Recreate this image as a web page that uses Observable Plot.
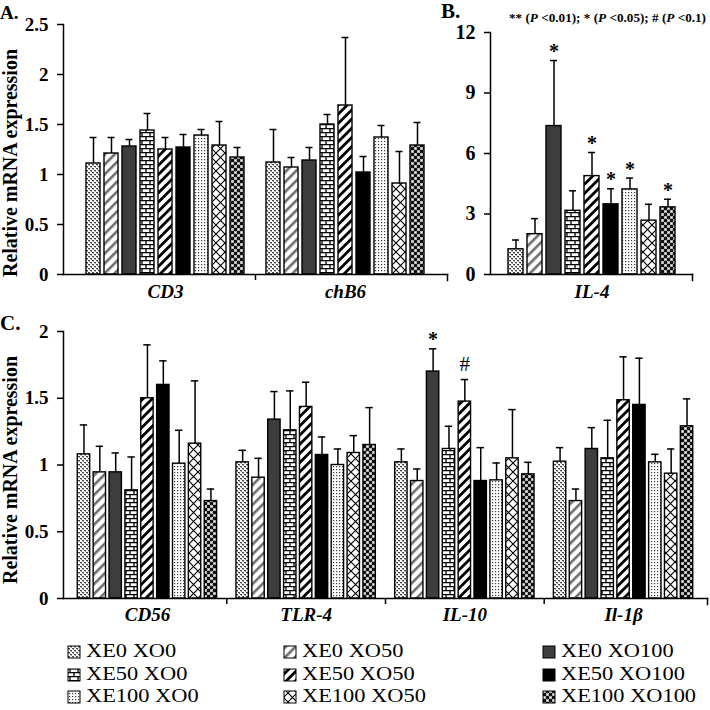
<!DOCTYPE html>
<html><head><meta charset="utf-8">
<script src="https://cdn.jsdelivr.net/npm/d3@7"></script>
<script src="https://cdn.jsdelivr.net/npm/@observablehq/plot@0.6"></script>
<style>
html,body{margin:0;padding:0;background:#fff;}
#fig{position:relative;width:710px;height:710px;overflow:hidden;font-family:'Liberation Serif','Times New Roman',serif;color:#000;}
.panel{position:absolute;}
#overlay{position:absolute;left:0;top:0;}
</style></head><body>
<svg width="0" height="0" style="position:absolute">
<defs>
<pattern id="p0" width="4" height="4" patternUnits="userSpaceOnUse">
<rect width="4" height="4" fill="#fff"/><rect x="0" y="0" width="2" height="1.2" fill="#444"/><rect x="2" y="2" width="2" height="1.2" fill="#444"/><rect x="1" y="1" width="1" height="1" fill="#999"/><rect x="3" y="3" width="1" height="1" fill="#999"/>
</pattern>
<pattern id="p1" width="7" height="7" patternUnits="userSpaceOnUse" patternTransform="rotate(45)">
<rect width="7" height="7" fill="#fff"/><rect width="2.6" height="7" fill="#6e6e6e"/>
</pattern>
<pattern id="p2" width="4" height="4" patternUnits="userSpaceOnUse"><rect width="4" height="4" fill="#3d3d3d"/></pattern>
<pattern id="p3" width="8" height="8" patternUnits="userSpaceOnUse">
<rect width="8" height="8" fill="#fff"/><path d="M0 0.6H8M0 4.6H8M2 0V4.6M6 4.6V8" stroke="#000" stroke-width="1.3" fill="none"/>
</pattern>
<pattern id="p4" width="6.5" height="6.5" patternUnits="userSpaceOnUse" patternTransform="rotate(45)">
<rect width="6.5" height="6.5" fill="#fff"/><rect width="2.8" height="6.5" fill="#000"/>
</pattern>
<pattern id="p5" width="4" height="4" patternUnits="userSpaceOnUse"><rect width="4" height="4" fill="#000"/></pattern>
<pattern id="p6" width="3" height="3" patternUnits="userSpaceOnUse">
<rect width="3" height="3" fill="#fff"/><rect width="1.2" height="1.2" fill="#3a3a3a"/>
</pattern>
<pattern id="p7" width="9" height="9" patternUnits="userSpaceOnUse">
<rect width="9" height="9" fill="#fff"/><path d="M0 0L9 9M9 0L0 9" stroke="#000" stroke-width="1.1" fill="none"/>
</pattern>
<pattern id="p8" width="6" height="6" patternUnits="userSpaceOnUse">
<rect width="6" height="6" fill="#b0b0b0"/><rect width="3" height="3" fill="#111"/><rect x="3" y="3" width="3" height="3" fill="#111"/><rect x="4" y="1" width="1" height="1" fill="#fff"/><rect x="1" y="4" width="1" height="1" fill="#fff"/>
</pattern>
</defs></svg>
<div id="fig">
 <div id="pA" class="panel" style="left:0;top:0"></div>
 <div id="pB" class="panel" style="left:445px;top:0"></div>
 <div id="pC" class="panel" style="left:0;top:310px"></div>
 <svg id="overlay" width="710" height="710"></svg>
</div>
<script>
// ---------- data ----------
const groups = ["XE0 XO0","XE0 XO50","XE0 XO100","XE50 XO0","XE50 XO50","XE50 XO100","XE100 XO0","XE100 XO50","XE100 XO100"];
const patternIds = ["p0","p1","p2","p3","p4","p5","p6","p7","p8"];

const genesA = ["CD3","chB6"];
const meanCD3  = [1.11,1.21,1.28,1.44,1.25,1.27,1.39,1.29,1.17];
const errCD3   = [0.26,0.16,0.07,0.17,0.12,0.13,0.06,0.24,0.10];
const meanChB6 = [1.12,1.07,1.14,1.50,1.69,1.02,1.37,0.91,1.29];
const errChB6  = [0.33,0.10,0.13,0.10,0.68,0.16,0.12,0.32,0.23];

const genesB = ["IL-4"];
const meanIL4 = [1.25,2.00,7.36,3.16,4.88,3.48,4.22,2.67,3.33];
const errIL4  = [0.46,0.77,3.25,0.99,1.17,0.77,0.56,0.81,0.40];
const sigIL4  = ["","","*","","*","*","*","","*"];

const genesC = ["CD56","TLR-4","IL-10","Il-1β"];
const meanCD56 = [1.08,0.945,0.945,0.81,1.50,1.60,1.01,1.16,0.73];
const errCD56  = [0.22,0.195,0.145,0.25,0.40,0.18,0.25,0.47,0.09];
const meanTLR4 = [1.02,0.905,1.34,1.26,1.435,1.075,1.00,1.09,1.15];
const errTLR4  = [0.09,0.145,0.21,0.295,0.185,0.135,0.12,0.13,0.28];
const meanIL10 = [1.02,0.88,1.70,1.12,1.475,0.88,0.885,1.05,0.93];
const errIL10  = [0.10,0.09,0.17,0.17,0.165,0.25,0.13,0.365,0.09];
const sigIL10  = ["","","*","","#","","","",""];
const meanIL1b = [1.025,0.73,1.12,1.05,1.485,1.45,1.02,0.935,1.29];
const errIL1b  = [0.105,0.09,0.16,0.285,0.325,0.35,0.06,0.185,0.205];

const yTicksA = [0,0.5,1,1.5,2,2.5];
const yTicksB = [0,3,6,9,12];
const yTicksC = [0,0.5,1,1.5,2];

const yTitle = "Relative mRNA expression";
const noteParts = [["** (",false],["P",true],[" <0.01); * (",false],["P",true],[" <0.05); # (",false],["P",true],[" <0.1)",false]];

// ---------- helpers ----------
function rows(gene, means, errs, sigs) {
  return groups.map((g, i) => ({gene, group: g, key: `${gene}|${g}`, mean: means[i], top: means[i] + errs[i], sig: sigs ? sigs[i] : ""}));
}
function domainFor(genes) {
  const d = [], gaps = [];
  genes.forEach((gene, i) => {
    if (i > 0) { d.push(`gap${i}`); gaps.push(`gap${i}`); }
    groups.forEach(g => d.push(`${gene}|${g}`));
  });
  return {d, gaps};
}
const fontFam = "'Liberation Serif','Times New Roman',serif";

function panel(o) {
  const {d, gaps} = domainFor(o.genes);
  const innerH = o.height - o.mT - o.mB;
  return Plot.plot({
    width: o.width, height: o.height,
    marginLeft: o.mL, marginRight: o.mR, marginTop: o.mT, marginBottom: o.mB,
    style: {fontFamily: fontFam, fontSize: o.tickFont + "px", fontWeight: "bold", background: "transparent", overflow: "visible", color: "#000"},
    x: {domain: d, axis: null, paddingInner: 0.22, paddingOuter: o.po},
    y: {domain: o.yDomain},
    color: {domain: groups, range: patternIds.map(id => `url(#${id})`)},
    marks: [
      Plot.barY(o.data, {x: "key", y: "mean", fill: "group", stroke: "#000", strokeWidth: 1.4}),
      Plot.ruleX(o.data, {x: "key", y1: "mean", y2: "top", stroke: "#000", strokeWidth: 1.5}),
      Plot.tickY(o.data, {x: "key", y: "top", stroke: "#000", strokeWidth: 1.5, insetLeft: o.capInset, insetRight: o.capInset}),
      Plot.text(o.data.filter(r => r.sig === "*"), {x: "key", y: "top", text: "sig", dy: -9, fontSize: 20, fontWeight: "bold"}),
      Plot.text(o.data.filter(r => r.sig === "#"), {x: "key", y: "top", text: "sig", dy: -15, fontSize: 21, fontWeight: "normal"}),
      Plot.frame({anchor: "left", stroke: "#000", strokeWidth: 1.5}),
      Plot.frame({anchor: "bottom", stroke: "#000", strokeWidth: 1.5}),
      Plot.frame({anchor: "right", stroke: "#000", strokeWidth: 1.5, insetTop: innerH, insetBottom: -6}),
      Plot.ruleX(gaps, {x: g => g, y1: 0, y2: 0, insetBottom: -6, stroke: "#000", strokeWidth: 1.5}),
      Plot.axisY({ticks: o.yTicks, tickFormat: v => `${v}`, tickSize: 6, tickPadding: o.tickPad, strokeWidth: 1.5, fontSize: o.tickFont, fontWeight: "bold"}),
      Plot.text(o.genes, {x: g => `${g}|${groups[4]}`, text: g => g, frameAnchor: "bottom", dy: o.labelDy, fontSize: 19, fontWeight: "bold", fontStyle: "italic"})
    ]
  });
}

const dataA = [...rows("CD3", meanCD3, errCD3), ...rows("chB6", meanChB6, errChB6)];
const dataB = rows("IL-4", meanIL4, errIL4, sigIL4);
const dataC = [...rows("CD56", meanCD56, errCD56), ...rows("TLR-4", meanTLR4, errTLR4),
               ...rows("IL-10", meanIL10, errIL10, sigIL10), ...rows("Il-1β", meanIL1b, errIL1b)];

document.getElementById("pA").append(panel({data: dataA, genes: genesA, yDomain: [0, 2.5], yTicks: yTicksA,
  width: 455, height: 310, mL: 63, mR: 8, mT: 24, mB: 36, po: 0.78, tickFont: 19, tickPad: 9, labelDy: 23, capInset: 3.5}));
document.getElementById("pB").append(panel({data: dataB, genes: genesB, yDomain: [0, 12], yTicks: yTicksB,
  width: 265, height: 310, mL: 45, mR: 18, mT: 32, mB: 36, po: 0.75, tickFont: 20, tickPad: 9, labelDy: 23, capInset: 4}));
document.getElementById("pC").append(panel({data: dataC, genes: genesC, yDomain: [0, 2], yTicks: yTicksC,
  width: 710, height: 330, mL: 63, mR: 3, mT: 21, mB: 42, po: 0.9, tickFont: 19, tickPad: 9, labelDy: 22, capInset: 2.5}));

// ---------- overlay texts & legend ----------
const ov = d3.select("#overlay").style("font-family", fontFam);
function txt(x, y, s, size, weight) {
  return ov.append("text").attr("x", x).attr("y", y).attr("font-size", size).attr("font-weight", weight).attr("fill", "#000").text(s);
}
txt(0, 19, "A.", 19, "bold");
txt(441, 18, "B.", 21, "bold");
txt(0, 330, "C.", 21, "bold");
const note = ov.append("text").attr("x", 509).attr("y", 22).attr("font-size", 12.6).attr("font-weight", "bold").attr("fill", "#000")
  .attr("textLength", 197).attr("lengthAdjust", "spacingAndGlyphs");
noteParts.forEach(([s, it]) => note.append("tspan").attr("font-style", it ? "italic" : "normal").text(s));
[163, 470].forEach(cy => {
  ov.append("text").attr("transform", `translate(17,${cy}) rotate(-90)`).attr("text-anchor", "middle")
    .attr("font-size", 20).attr("font-weight", "bold").attr("fill", "#000")
    .attr("textLength", 228).attr("lengthAdjust", "spacingAndGlyphs").text(yTitle);
});

const legColX = [68, 284, 543];
const legRowY = [657, 680, 702];
groups.forEach((g, i) => {
  const col = i % 3, row = Math.floor(i / 3);
  const x = legColX[col], y = legRowY[row];
  ov.append("rect").attr("x", x).attr("y", y - 11).attr("width", 12).attr("height", 12)
    .attr("fill", `url(#${patternIds[i]})`).attr("stroke", "#000").attr("stroke-width", 1);
  ov.append("text").attr("transform", `translate(${x + 18},${y}) scale(1.18,1)`)
    .attr("font-size", 19).attr("font-weight", "normal").attr("fill", "#000").text(g);
});
</script>
</body></html>
